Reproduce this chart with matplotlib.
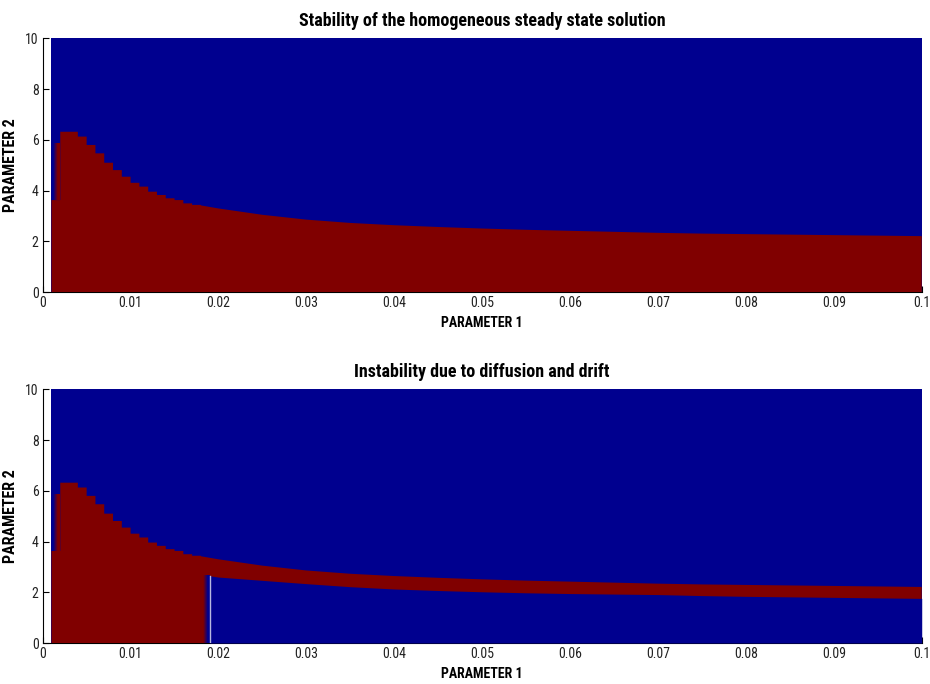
import matplotlib.pyplot as plt
from matplotlib.colors import LinearSegmentedColormap

# staircase part of the upper stability boundary (column edges, heights)
stair_edges = [0.001, 0.002, 0.003, 0.004, 0.005, 0.006, 0.007, 0.008, 0.009,
               0.010, 0.011, 0.012, 0.013, 0.014, 0.015, 0.016, 0.017, 0.018]
stair_upper = [3.63, 6.32, 6.32, 6.13, 5.80, 5.47, 5.10, 4.81, 4.55,
               4.31, 4.16, 3.96, 3.83, 3.70, 3.63, 3.50, 3.44]
first_col_fade_top = 5.87

# smooth part of the upper boundary
smooth_x = [0.018, 0.020, 0.025, 0.030, 0.035, 0.040, 0.045, 0.050, 0.055,
            0.060, 0.065, 0.070, 0.075, 0.080, 0.085, 0.090, 0.095, 0.100]
smooth_upper = [3.42, 3.30, 3.05, 2.86, 2.73, 2.64, 2.57, 2.51, 2.46,
                2.42, 2.38, 2.34, 2.31, 2.29, 2.27, 2.25, 2.23, 2.21]

# lower boundary of the diffusion/drift instability band (bottom panel)
lower_x = [0.019, 0.020, 0.025, 0.030, 0.035, 0.040, 0.045, 0.050, 0.055,
           0.060, 0.065, 0.070, 0.075, 0.080, 0.085, 0.090, 0.095, 0.100]
lower_y = [2.65, 2.60, 2.47, 2.34, 2.22, 2.13, 2.07, 2.02, 1.98,
           1.95, 1.93, 1.91, 1.87, 1.84, 1.82, 1.80, 1.78, 1.76]

titles = ['Stability of the homogeneous steady state solution',
          'Instability due to diffusion and drift']
xticks = [0, 0.01, 0.02, 0.03, 0.04, 0.05, 0.06, 0.07, 0.08, 0.09, 0.1]
xticklabels = ['0', '0.01', '0.02', '0.03', '0.04', '0.05', '0.06', '0.07', '0.08', '0.09', '0.1']
yticks = [0, 2, 4, 6, 8, 10]

blue = '#00008F'
red = '#800000'
fade = LinearSegmentedColormap.from_list('fade', [blue, red])

plt.rcParams['font.family'] = ['Roboto Condensed', 'DejaVu Sans']

# outline of the unstable (red) region: staircase then smooth curve
poly_x = [stair_edges[0]]
poly_y = [0]
for k, h in enumerate(stair_upper):
    poly_x += [stair_edges[k], stair_edges[k + 1]]
    poly_y += [h, h]
poly_x += smooth_x + [smooth_x[-1]]
poly_y += smooth_upper + [0]

fig = plt.figure(figsize=(9.3, 6.84), dpi=100)
ax1 = fig.add_axes([0.0459, 0.5727, 0.9452, 0.3713])
ax2 = fig.add_axes([0.0459, 0.0599, 0.9452, 0.3709])

for i, ax in enumerate([ax1, ax2]):
    ax.axvspan(stair_edges[0], smooth_x[-1], color=blue, lw=0, zorder=3)
    ax.fill(poly_x, poly_y, color=red, lw=0, zorder=3)
    # interpolated shading in the first column
    ax.imshow([[0, 1]], cmap=fade, vmin=0, vmax=1, interpolation='bilinear', aspect='auto',
              extent=(stair_edges[0], stair_edges[1], stair_upper[0], first_col_fade_top),
              zorder=3.5)
    if i == 1:
        ax.fill_between(lower_x, 0, lower_y, color=blue, lw=0, zorder=4)
        ax.imshow([[1, 0]], cmap=fade, vmin=0, vmax=1, interpolation='bilinear', aspect='auto',
                  extent=(stair_edges[-1], lower_x[0], 0, lower_y[0]), zorder=4)
        ax.plot([lower_x[0], lower_x[0]], [0, lower_y[0]], color='#b8b8e0', lw=1, zorder=5)

    ax.set_xlim(0, 0.1)
    ax.set_ylim(0, 10)
    ax.set_xticks(xticks)
    ax.set_xticklabels(xticklabels)
    ax.set_yticks(yticks)
    ax.tick_params(direction='in', length=4, labelsize=10, pad=3, labelcolor='#222222')
    for s in ['top', 'right']:
        ax.spines[s].set_visible(False)
    ax.set_title(titles[i], fontsize=13, fontweight='bold', pad=9)
    ax.set_xlabel('PARAMETER 1', fontsize=10, fontweight='bold', labelpad=4)
    ax.set_ylabel('PARAMETER 2', fontsize=11.5, fontweight='bold', labelpad=5)

fig.savefig('out.png', dpi=100)
